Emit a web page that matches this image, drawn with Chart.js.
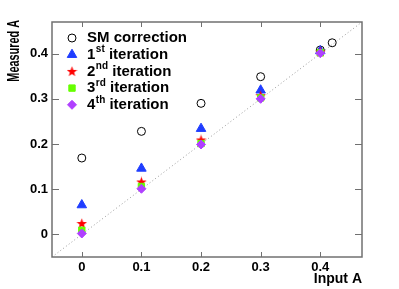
<!DOCTYPE html>
<html>
<head>
<meta charset="utf-8">
<script src="https://cdn.jsdelivr.net/npm/chart.js@4.4.1/dist/chart.umd.min.js"></script>
<style>
  html, body { margin: 0; padding: 0; background: #fff; }
</style>
</head>
<body>
<canvas id="myChart" width="399" height="289"></canvas>
<script>
// datos
const inputA = [0, 0.1, 0.2, 0.3, 0.4];
const smInput = [0, 0.1, 0.2, 0.3, 0.4, 0.42];
const smCorrection = [0.169, 0.228, 0.290, 0.349, 0.408, 0.424];
const iter1 = [0.065, 0.146, 0.234, 0.319, 0.406];
const iter2 = [0.024, 0.116, 0.209, 0.307, 0.404];
const iter3 = [0.009, 0.106, 0.201, 0.302, 0.402];
const iter4 = [0.002, 0.101, 0.199, 0.300, 0.401];
const axisRange = [-0.05, 0.47];
const xTicks = [0, 0.1, 0.2, 0.3, 0.4];
const yTicks = [0, 0.1, 0.2, 0.3, 0.4];
const yTitle = "Measured A";
// [base, superindice, resto]
const legendLabels = [
  ["SM correction", "", ""],
  ["1", "st", " iteration"],
  ["2", "nd", " iteration"],
  ["3", "rd", " iteration"],
  ["4", "th", " iteration"],
];

const pts = (xs, ys) => xs.map((x, i) => ({ x: x, y: ys[i] }));

// estrella rellena (el 'star' de Chart.js es solo trazo)
const starImg = document.createElement("canvas");
starImg.width = 11; starImg.height = 11;
(() => {
  const c = starImg.getContext("2d");
  c.fillStyle = "#ff0000";
  c.beginPath();
  for (let k = 0; k < 10; k++) {
    const r = k % 2 === 0 ? 5.5 : 2.3;
    const a = -Math.PI / 2 + k * Math.PI / 5;
    const px = 5.5 + r * Math.cos(a), py = 5.8 + r * Math.sin(a);
    k === 0 ? c.moveTo(px, py) : c.lineTo(px, py);
  }
  c.closePath();
  c.fill();
})();

const font = "'Liberation Sans', Arial, Helvetica, sans-serif";

const frameAndLegend = {
  id: "frameAndLegend",
  afterDraw(chart) {
    const { ctx, chartArea: a, scales } = chart;
    ctx.save();
    ctx.strokeStyle = "#707070";
    ctx.lineWidth = 1.5;
    ctx.strokeRect(a.left, a.top, a.right - a.left, a.bottom - a.top);
    ctx.lineWidth = 1;
    ctx.beginPath();
    xTicks.forEach(v => {
      const px = Math.round(scales.x.getPixelForValue(v)) + 0.5;
      ctx.moveTo(px, a.bottom); ctx.lineTo(px, a.bottom - 5);
      ctx.moveTo(px, a.top); ctx.lineTo(px, a.top + 5);
    });
    yTicks.forEach(v => {
      const py = Math.round(scales.y.getPixelForValue(v)) + 0.5;
      ctx.moveTo(a.left, py); ctx.lineTo(a.left + 7, py);
      ctx.moveTo(a.right, py); ctx.lineTo(a.right - 7, py);
    });
    ctx.stroke();

    // titulo del eje y, condensado
    ctx.save();
    ctx.translate(15, a.top - 2);
    ctx.rotate(-Math.PI / 2);
    ctx.scale(0.68, 1);
    ctx.font = "bold 16px " + font;
    ctx.fillStyle = "#000";
    ctx.textAlign = "right";
    ctx.textBaseline = "middle";
    ctx.fillText(yTitle, 0, 0);
    ctx.restore();

    // leyenda dentro del area
    const x0 = a.left + 20, tx = a.left + 35, y0 = a.top + 16, dy = 16.7;
    ctx.textBaseline = "middle";
    legendLabels.forEach((lab, i) => {
      const ds = chart.data.datasets[i];
      const y = y0 + i * dy;
      ctx.fillStyle = ds.backgroundColor;
      ctx.strokeStyle = ds.borderColor;
      ctx.lineWidth = ds.borderWidth;
      Chart.helpers.drawPoint(ctx, { pointStyle: ds.pointStyle, radius: ds.pointRadius, rotation: 0, borderWidth: ds.borderWidth }, x0, y);
      ctx.fillStyle = "#000";
      let x = tx;
      ctx.font = "bold 15px " + font;
      ctx.fillText(lab[0], x, y);
      x += ctx.measureText(lab[0]).width;
      if (lab[1]) {
        ctx.font = "bold 10px " + font;
        ctx.fillText(lab[1], x + 0.5, y - 5);
        x += ctx.measureText(lab[1]).width + 0.5;
        ctx.font = "bold 15px " + font;
        ctx.fillText(lab[2], x, y);
      }
    });
    ctx.restore();
  },
};

new Chart(document.getElementById("myChart"), {
  type: "scatter",
  data: {
    datasets: [
      { label: "SM correction", data: pts(smInput, smCorrection), pointStyle: "circle", pointRadius: 4,
        backgroundColor: "rgba(255,255,255,0)", borderColor: "#000", borderWidth: 1, order: 5 },
      { label: "1st iteration", data: pts(inputA, iter1), pointStyle: "triangle", pointRadius: 5.5,
        backgroundColor: "#1f3dff", borderColor: "#1f3dff", borderWidth: 1, order: 4 },
      { label: "2nd iteration", data: pts(inputA, iter2), pointStyle: starImg, pointRadius: 5,
        backgroundColor: "#ff0000", borderColor: "#ff0000", borderWidth: 1, order: 3 },
      { label: "3rd iteration", data: pts(inputA, iter3), pointStyle: "rect", pointRadius: 4.5,
        backgroundColor: "#66ff00", borderColor: "#66ff00", borderWidth: 1, order: 2 },
      { label: "4th iteration", data: pts(inputA, iter4), pointStyle: "rectRot", pointRadius: 4.5,
        backgroundColor: "#b040ff", borderColor: "#b040ff", borderWidth: 1, order: 1 },
      { label: "diagonal", data: pts(axisRange, axisRange), type: "line", showLine: true, pointRadius: 0,
        borderColor: "#999", borderWidth: 1, borderDash: [1, 2.5], fill: false, order: 6 },
    ],
  },
  options: {
    responsive: false,
    devicePixelRatio: 1,
    animation: false,
    layout: { padding: { top: 22, right: 37, left: 0, bottom: 0 } },
    plugins: { legend: { display: false }, tooltip: { enabled: false } },
    scales: {
      x: {
        type: "linear", min: axisRange[0], max: axisRange[1],
        afterBuildTicks: s => { s.ticks = xTicks.map(v => ({ value: v })); },
        afterFit: s => { s.height = 32; },
        grid: { display: false, drawTicks: false },
        border: { display: false },
        ticks: { padding: 3, color: "#000", font: { family: font, size: 13, weight: "bold" }, maxRotation: 0,
          callback: v => String(v) },
        title: { display: true, text: "Input A", align: "end", color: "#000",
          font: { family: font, size: 14, weight: "bold" }, padding: { top: 3, bottom: 1 } },
      },
      y: {
        type: "linear", min: axisRange[0], max: axisRange[1],
        afterBuildTicks: s => { s.ticks = yTicks.map(v => ({ value: v })); },
        afterFit: s => { s.width = 52; },
        grid: { display: false, drawTicks: false },
        border: { display: false },
        ticks: { padding: 4, color: "#000", font: { family: font, size: 13, weight: "bold" },
          callback: v => String(v) },
        title: { display: false },
      },
    },
  },
  plugins: [frameAndLegend],
});
</script>
</body>
</html>
